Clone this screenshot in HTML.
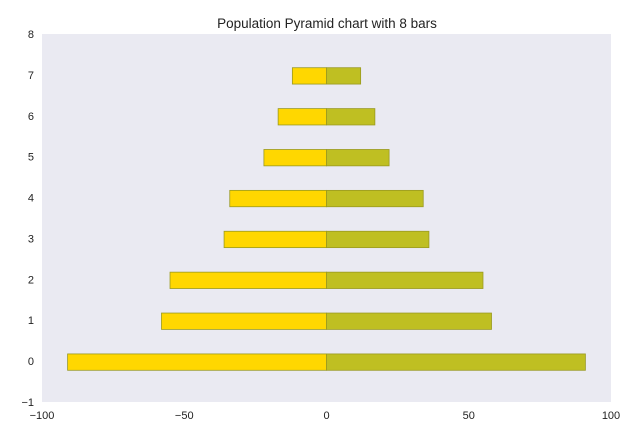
<!DOCTYPE html>
<html><head><meta charset="utf-8"><style>
body{margin:0;background:#fff;font-family:"Liberation Sans",sans-serif}
</style></head><body>
<svg id="c" width="640" height="440" xmlns="http://www.w3.org/2000/svg">
<text x="327" y="28" font-size="13.5" text-anchor="middle" fill="#222">Population Pyramid chart with 8 bars</text>
<rect x="42" y="34" width="569" height="368" fill="#eaeaf2"/>
<g id="bars"></g><g id="ticks"></g>
</svg>
<script>
const categories=[0,1,2,3,4,5,6,7];
const leftValues=[-91,-58,-55,-36,-34,-22,-17,-12];
const rightValues=[91,58,55,36,34,22,17,12];
const xTicks=[-100,-50,0,50,100];
const yTicks=[-1,0,1,2,3,4,5,6,7,8];
const NS="http://www.w3.org/2000/svg";
const x=v=>42+(v+100)/200*569;
const y=v=>402-(v+1)/9*368;
const bars=document.getElementById('bars'),ticks=document.getElementById('ticks');
function mk(t,a,p){const e=document.createElementNS(NS,t);for(const k in a)e.setAttribute(k,a[k]);p.appendChild(e);return e;}
categories.forEach((c,i)=>{
 [[leftValues[i],'#ffd700','left'],[rightValues[i],'#bfbf22','right']].forEach(([v,col,s])=>{
  const r=mk('rect',{x:Math.min(x(0),x(v)),y:y(c+0.2)+1,width:Math.abs(x(v)-x(0)),height:y(c-0.2)-y(c+0.2),fill:col,stroke:'#9a9a20','stroke-width':0.8},bars);
  
  
 });
});
xTicks.forEach(t=>{
 const e=mk('text',{x:x(t),y:419,'font-size':11,'text-anchor':'middle',fill:'#222'},ticks);
 e.textContent=t<0?'\u2212'+(-t):t;
 
 
});
yTicks.forEach(t=>{
 const e=mk('text',{x:34,y:y(t)+4,'font-size':11,'text-anchor':'end',fill:'#222'},ticks);
 e.textContent=t<0?'\u2212'+(-t):t;
 
 
});
</script>
</body></html>
